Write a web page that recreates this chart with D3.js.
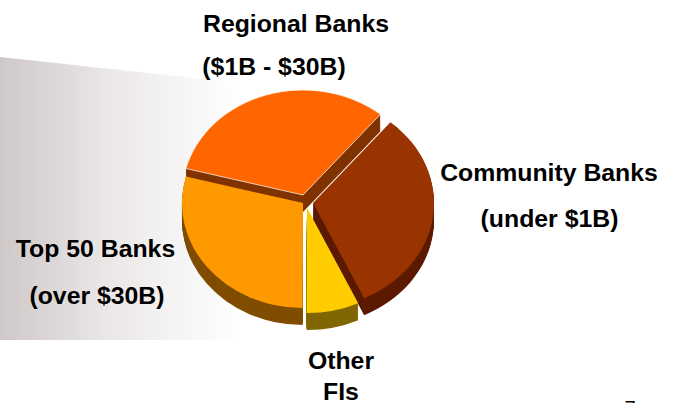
<!DOCTYPE html>
<html>
<head>
<meta charset="utf-8">
<script src="https://cdn.jsdelivr.net/npm/d3@7/dist/d3.min.js"></script>
<style>
html, body { margin: 0; padding: 0; background: #fff; overflow: hidden; }
text { font-family: "Liberation Sans", Arial, sans-serif; font-weight: bold; fill: #000; text-anchor: middle; }
</style>
</head>
<body>
<svg id="chart" width="677" height="403"></svg>
<script>
// Share of institutions by size class, in drawing order around the pie
const categories = ["Community Banks", "Other FIs", "Top 50 Banks", "Regional Banks"];
const shares = [32, 7, 29, 32];

// Face and side-wall colours for each class
const faceColors = ["#993300", "#ffcc00", "#ff9900", "#ff6600"];
const wallColors = ["#5c1b00", "#806600", "#804d00", "#803300"];

// Exploded-wedge apex for each class
const apexX = [313, 307, 303, 303];
const apexY = [203, 208, 203, 195];

// Text blocks: one line per row
const labelLines = ["Regional Banks", "($1B - $30B)", "Community Banks", "(under $1B)", "Top 50 Banks", "(over $30B)", "Other", "FIs"];
const labelX = [296, 274, 549, 549.5, 95.5, 97, 341, 341];
const labelY = [32, 75, 181, 227, 257, 304, 369, 400];

const radiusX = 121, radiusY = 105, depth = 17;
const startAngle = 39.8 * Math.PI / 180;

const svg = d3.select("#chart");

// Fading panel behind the left half of the pie
const grad = svg.append("defs").append("linearGradient")
  .attr("id", "panelFade").attr("x1", 0).attr("x2", 1).attr("y1", 0).attr("y2", 0);
grad.append("stop").attr("offset", 0).attr("stop-color", "#cfc8c8");
grad.append("stop").attr("offset", 0.45).attr("stop-color", "#ebe7e7");
grad.append("stop").attr("offset", 1).attr("stop-color", "#ffffff");

svg.append("path")
  .attr("d", "M0,57 L240,83 L240,340 L0,340 Z")
  .attr("fill", "url(#panelFade)");

const pie = d3.pie().sort(null)
  .startAngle(startAngle)
  .endAngle(startAngle + 2 * Math.PI)(shares);

const arc = d3.arc().innerRadius(0).outerRadius(1);

// Paint order runs from the far wedge to the near ones
const paintOrder = [3, 0, 2, 1];
const wedges = svg.append("g");

paintOrder.forEach(i => {
  const wedge = wedges.append("g");
  d3.range(depth, 0, -1).forEach(dy => {
    wedge.append("path")
      .attr("d", arc(pie[i]))
      .attr("transform", `translate(${apexX[i]},${apexY[i] + dy}) scale(${radiusX},${radiusY})`)
      .attr("fill", wallColors[i]);
  });
  wedge.append("path")
    .attr("d", arc(pie[i]))
    .attr("transform", `translate(${apexX[i]},${apexY[i]}) scale(${radiusX},${radiusY})`)
    .attr("fill", faceColors[i])
    .attr("stroke", i === 3 ? "#fff" : "none")
    .attr("stroke-width", 0.7)
    .attr("vector-effect", "non-scaling-stroke");
});

// Category labels
svg.append("g").selectAll("text").data(labelLines).join("text")
  .attr("x", (d, i) => labelX[i])
  .attr("y", (d, i) => labelY[i])
  .attr("font-size", 24.8)
  .text(d => d);

// Page number, cut by the lower edge
svg.append("text")
  .attr("x", 630).attr("y", 415)
  .attr("font-size", 20)
  .style("font-weight", "normal")
  .text("7");
</script>
</body>
</html>
